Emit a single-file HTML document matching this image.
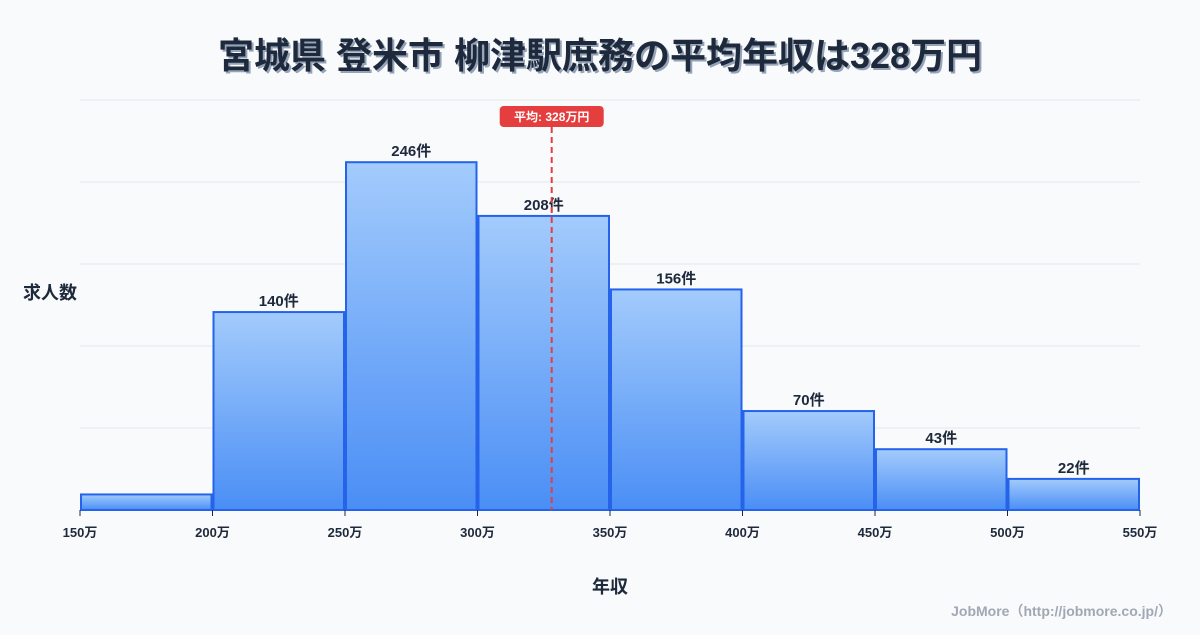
<!DOCTYPE html>
<html><head><meta charset="utf-8"><style>
body{margin:0;background:#f8fafc;}
svg text{font-family:"Liberation Sans","Noto Sans CJK JP",sans-serif;}
</style></head><body>
<svg width="1200" height="630" viewBox="0 0 1200 630">
<defs><linearGradient id="g" x1="0" y1="0" x2="0" y2="1"><stop offset="0" stop-color="#a3cbfc"/><stop offset="1" stop-color="#4a8ef5"/></linearGradient></defs>
<text x="600" y="68" text-anchor="middle" font-size="36" font-weight="bold" fill="#94a3b8" transform="translate(2,2)">宮城県 登米市 柳津駅庶務の平均年収は328万円</text>
<text x="600" y="68" text-anchor="middle" font-size="36" font-weight="bold" fill="#1e293b">宮城県 登米市 柳津駅庶務の平均年収は328万円</text>
<g id="grid"></g><g id="bars"></g><g id="ticks"></g>
<text x="50" y="299" text-anchor="middle" font-size="18" font-weight="bold" fill="#1e293b">求人数</text>
<text x="610" y="593" text-anchor="middle" font-size="18" font-weight="bold" fill="#1e293b">年収</text>
<text x="1172" y="616" text-anchor="end" font-size="14" font-weight="bold" fill="#a0a8b4">JobMore（http://jobmore.co.jp/）</text>
<g id="avg"></g>
</svg>
<script>
const binStarts=[150,200,250,300,350,400,450,500];
const counts=[11,140,246,208,156,70,43,22];
const showLabel=[false,true,true,true,true,true,true,true];
const xTicks=[150,200,250,300,350,400,450,500,550];
const avgValue=328;
const binWidth=50;
const NS="http://www.w3.org/2000/svg";
const X=v=>80+(v-150)*(1060/400);
const Y=v=>510-v*(410/290);
function mk(t,a,p){const e=document.createElementNS(NS,t);for(const k in a)e.setAttribute(k,a[k]);p.appendChild(e);return e;}
const grid=document.getElementById('grid');
for(let i=0;i<=5;i++){const y=Y(i*58);const l=mk('line',{x1:80,x2:1140,y1:y,y2:y,stroke:'#e5e7eb','stroke-width':1},grid);

}
const bars=document.getElementById('bars');
binStarts.forEach((s,i)=>{const x0=X(s)+1,x1=X(s+binWidth)-1,y=Y(counts[i]);
const r=mk('rect',{x:x0,y:y,width:x1-x0,height:510-y,fill:'url(#g)',stroke:'#2563eb','stroke-width':2},bars);


if(showLabel[i]){const t=mk('text',{x:(x0+x1)/2,y:y-6,'text-anchor':'middle','font-size':15,'font-weight':'bold',fill:'#1e293b'},bars);t.textContent=counts[i]+'件';

}});
const ticks=document.getElementById('ticks');
xTicks.forEach(v=>{const x=X(v);const l=mk('line',{x1:x,x2:x,y1:510,y2:516,stroke:'#1e293b','stroke-width':1},ticks);


const t=mk('text',{x:x,y:537,'text-anchor':'middle','font-size':13,'font-weight':'bold',fill:'#1e293b'},ticks);t.textContent=v+'万';

});
const avg=document.getElementById('avg');const ax=X(avgValue);
const al=mk('line',{x1:ax,x2:ax,y1:127,y2:510,stroke:'#e53e3e','stroke-width':2,'stroke-dasharray':'6,4'},avg);


const ab=mk('rect',{x:ax-52,y:106,width:104,height:21,rx:4,fill:'#e53e3e'},avg);


const at=mk('text',{x:ax,y:121,'text-anchor':'middle','font-size':12,'font-weight':'bold',fill:'#fff'},avg);at.textContent='平均: '+avgValue+'万円';


</script>
</body></html>
